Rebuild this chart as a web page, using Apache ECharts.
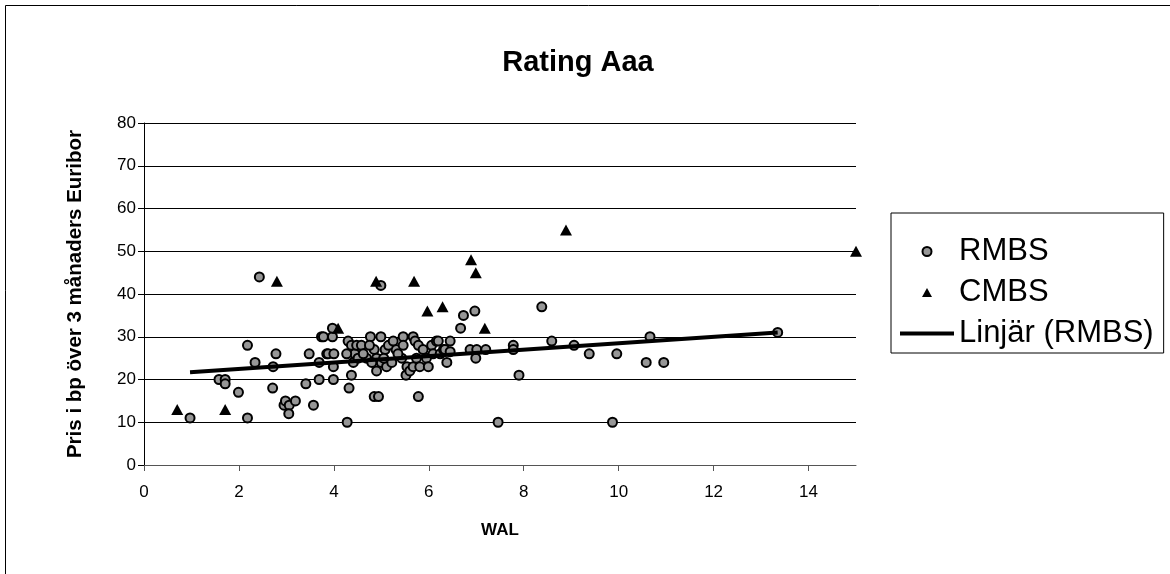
<!DOCTYPE html>
<html>
<head>
<meta charset="utf-8">
<script src="https://cdn.jsdelivr.net/npm/echarts@6/dist/echarts.min.js"></script>
<style>
html,body{margin:0;padding:0;background:#fff;}
#chart{width:1170px;height:574px;}
</style>
</head>
<body>
<div id="chart"></div>
<script>
// ---- data ----
const titleText = 'Rating Aaa';
const xAxisName = 'WAL';
const yAxisName = 'Pris i bp över 3 månaders Euribor';
const seriesNames = ['RMBS', 'CMBS', 'Linjär (RMBS)'];

const rmbsWal = [0.97,1.58,1.71,1.71,1.99,2.18,2.18,2.34,2.43,2.72,2.71,2.78,2.95,2.98,3.06,3.05,3.19,3.41,3.48,3.57,
  3.69,3.69,3.74,3.78,3.97,3.97,3.85,3.88,4.00,3.99,3.99,4.28,4.32,4.37,4.30,4.37,4.44,4.41,4.27,4.48,
  4.51,4.58,4.69,4.77,4.85,4.90,4.90,4.99,5.00,4.85,4.94,4.99,5.08,5.11,5.22,5.31,5.43,5.46,5.46,5.52,
  5.54,5.60,5.67,5.67,5.71,5.74,5.78,5.78,5.81,5.88,5.95,5.99,6.06,6.09,6.16,6.20,6.24,6.31,6.34,6.38,
  6.45,6.45,6.67,6.73,6.97,6.87,7.01,6.99,7.20,7.46,7.78,7.78,7.90,8.38,8.59,9.06,9.38,9.96,9.87,10.58,
  10.66,10.95,13.35,4.62,4.75,5.15,5.35,5.05,4.80,5.25];
const rmbsPris = [11,20,20,19,17,11,28,24,44,23,18,26,14,15,14,12,15,19,26,14,
  24,20,30,30,30,32,26,26,26,23,20,10,18,21,29,28,26,24,26,28,
  25,28,25,30,27,25,22,30,24,16,16,42,27,23,24,27,25,30,28,21,
  23,22,30,23,29,25,28,16,23,27,25,23,28,26,29,29,26,27,27,24,
  29,26.5,32,35,36,27,27,25,27,10,28,27,21,37,29,28,26,26,10,24,
  30,24,31,26,28,28,26,25,24,29];

const cmbsWal = [0.70,1.71,2.80,4.09,4.89,5.69,5.97,6.29,6.89,6.99,7.18,8.89,15.0];
const cmbsPris = [13,13,43,32,43,43,36,37,48,45,32,55,50];

const trendWal = [0.97, 13.35];
const trendPris = [21.7, 31.0];

const xTicks = [0,2,4,6,8,10,12,14];

const zip = (a, b) => a.map((v, i) => [v, b[i]]);

const chart = echarts.init(document.getElementById('chart'), null, {renderer: 'canvas'});
const FONT = 'Liberation Sans, Arial, sans-serif';

chart.setOption({
  animation: false,
  backgroundColor: '#fff',
  title: {
    text: titleText,
    left: 573,
    top: 43,
    textAlign: 'center',
    textStyle: {fontFamily: FONT, fontSize: 29, fontWeight: 'bold', color: '#000'}
  },
  graphic: [{
    type: 'rect',
    shape: {x: 5.5, y: 5.5, width: 1200, height: 700},
    style: {fill: 'none', stroke: '#000', lineWidth: 1},
    silent: true, z: -1
  }],
  legend: {
    orient: 'vertical',
    left: 891,
    top: 213,
    padding: [23, 10, 4, 7],
    itemWidth: 54,
    itemHeight: 9,
    itemGap: 10,
    symbolKeepAspect: true,
    borderColor: '#000',
    borderWidth: 1,
    textStyle: {fontFamily: FONT, fontSize: 31, color: '#000'},
    data: [
      {name: seriesNames[0]},
      {name: seriesNames[1], icon: 'path://M5,0L10,9L0,9Z'},
      {name: seriesNames[2], itemStyle: {opacity: 0}, lineStyle: {width: 4, color: '#000'}}
    ]
  },
  grid: {left: 144, right: 314, top: 123, bottom: 109, containLabel: false},
  xAxis: {
    type: 'value',
    min: 0, max: 15, interval: 2,
    name: xAxisName,
    nameLocation: 'middle',
    nameGap: 57,
    nameTextStyle: {fontFamily: FONT, fontSize: 17, fontWeight: 'bold', color: '#000'},
    axisLine: {show: true, onZero: false, lineStyle: {color: '#555', width: 1}},
    axisTick: {show: true, length: 6, lineStyle: {color: '#555'}, customValues: xTicks},
    axisLabel: {fontFamily: FONT, fontSize: 17, color: '#000', margin: 19, customValues: xTicks},
    splitLine: {show: false}
  },
  yAxis: {
    type: 'value',
    min: 0, max: 80, interval: 10,
    name: yAxisName,
    nameLocation: 'middle',
    nameRotate: 90,
    nameGap: 58,
    nameTextStyle: {fontFamily: FONT, fontSize: 20.5, fontWeight: 'bold', color: '#000'},
    axisLine: {show: true, lineStyle: {color: '#000', width: 1}},
    axisTick: {show: true, length: 6, lineStyle: {color: '#000'}},
    axisLabel: {fontFamily: FONT, fontSize: 17, color: '#000', margin: 8},
    splitLine: {show: true, lineStyle: {color: '#000', width: 1}}
  },
  series: [
    {
      name: seriesNames[0],
      type: 'scatter',
      data: zip(rmbsWal, rmbsPris),
      symbol: 'circle',
      symbolSize: 9,
      itemStyle: {color: '#969696', borderColor: '#000', borderWidth: 2, opacity: 1},
      z: 3
    },
    {
      name: seriesNames[1],
      type: 'scatter',
      data: zip(cmbsWal, cmbsPris),
      symbol: 'triangle',
      symbolSize: [12, 11],
      itemStyle: {color: '#000', opacity: 1},
      z: 3
    },
    {
      name: seriesNames[2],
      type: 'line',
      data: zip(trendWal, trendPris),
      showSymbol: false,
      symbol: 'none',
      lineStyle: {color: '#000', width: 4},
      itemStyle: {color: '#000'},
      z: 4
    }
  ]
});
</script>
</body>
</html>
